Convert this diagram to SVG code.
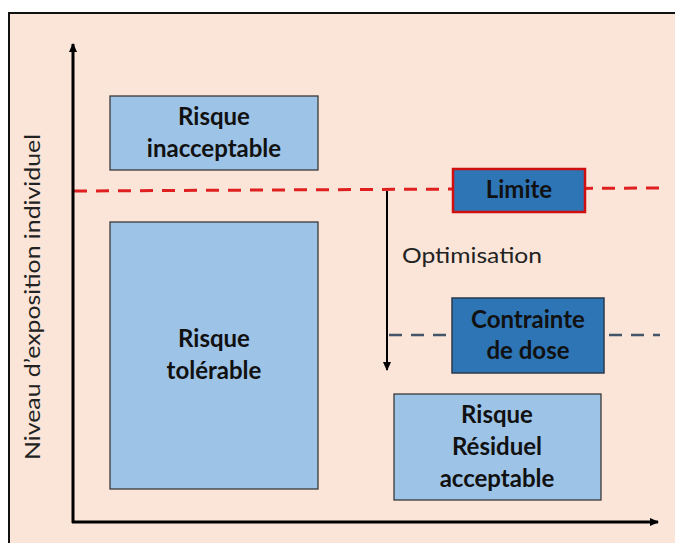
<svg xmlns="http://www.w3.org/2000/svg" width="675" height="543" viewBox="0 0 675 543">
<defs>
<marker id="ah" markerWidth="10" markerHeight="10" refX="8" refY="5" orient="auto" markerUnits="userSpaceOnUse"><path d="M0,1 L9,5 L0,9 z" fill="#000"/></marker>
<style>
.box{fill:#9DC3E6;stroke:#3a3a3a;stroke-width:1.3}
.dbox{fill:#2E75B6;stroke:#2a3a4a;stroke-width:1.5}
.t{font-family:Lato,"Open Sans",sans-serif;font-weight:bold;font-size:24px;fill:#111;text-anchor:middle}
.r{font-family:Lato,"Open Sans",sans-serif;font-size:22px;fill:#222}
.ax{stroke:#000;stroke-width:3;fill:none}
</style>
</defs>
<rect x="0" y="0" width="675" height="543" fill="#fff"/>
<rect x="9" y="13" width="680" height="545" fill="#FAE5D8" stroke="#111" stroke-width="2"/>
<g id="connectors">
<line x1="74" y1="191" x2="660" y2="188" stroke="#E02020" stroke-width="3" stroke-dasharray="13,9"/>
<line x1="389" y1="335" x2="660" y2="335" stroke="#44546A" stroke-width="2.5" stroke-dasharray="13,9"/>
<line class="ax" x1="73" y1="523" x2="73" y2="44" marker-end="url(#ah)"/>
<line class="ax" x1="72" y1="522" x2="658" y2="522" marker-end="url(#ah)"/>
<line x1="387" y1="191" x2="387" y2="370" stroke="#000" stroke-width="2" marker-end="url(#ah)"/>
</g>
<g id="ylabel"><text class="r" transform="translate(40,297) rotate(-90)" text-anchor="middle" textLength="326" lengthAdjust="spacingAndGlyphs">Niveau d’exposition individuel</text></g>
<g id="optimisation"><text class="r" x="402" y="263" textLength="140" lengthAdjust="spacingAndGlyphs">Optimisation</text></g>
<g id="inacceptable"><rect class="box" x="110" y="96" width="208" height="74"/><text class="t" x="214" y="125">Risque</text><text class="t" x="214" y="157">inacceptable</text></g>
<g id="tolerable"><rect class="box" x="110" y="222" width="208" height="267"/><text class="t" x="214" y="347">Risque</text><text class="t" x="214" y="379">tolérable</text></g>
<g id="limite"><rect x="453" y="169" width="132" height="43" fill="#2E75B6" stroke="#D01010" stroke-width="2.5"/><text class="t" x="519" y="198">Limite</text></g>
<g id="contrainte"><rect class="dbox" x="452" y="298" width="152" height="75"/><text class="t" x="528" y="328">Contrainte</text><text class="t" x="528" y="359">de dose</text></g>
<g id="residuel"><rect class="box" x="394" y="394" width="207" height="106"/><text class="t" x="497" y="423">Risque</text><text class="t" x="497" y="455">Résiduel</text><text class="t" x="497" y="487">acceptable</text></g>
</svg>
